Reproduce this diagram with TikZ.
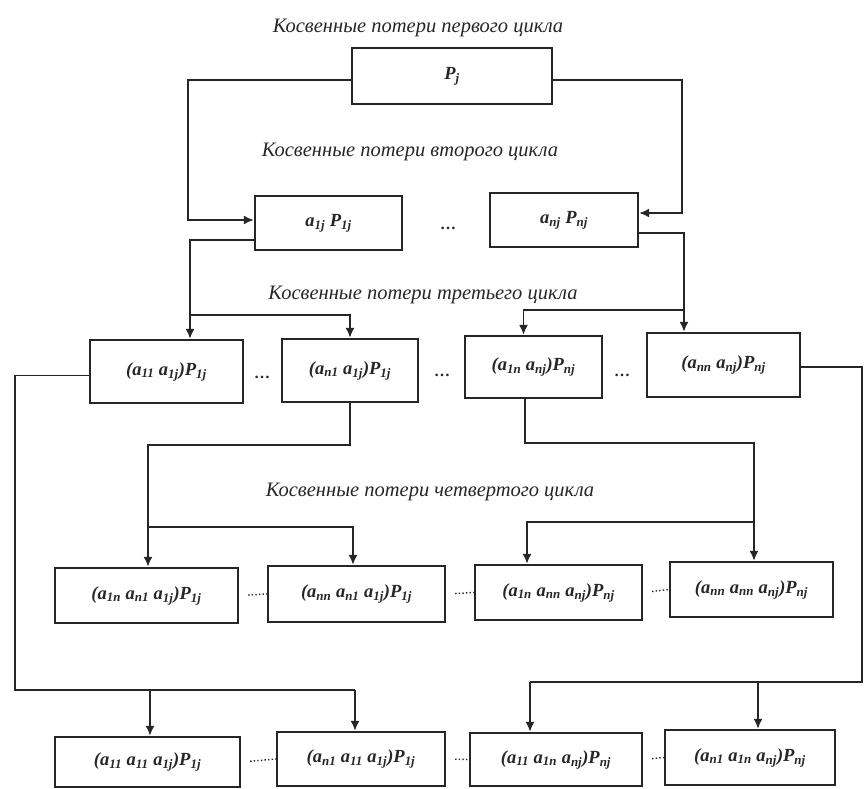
\documentclass[tikz,border=0pt]{standalone}
\usepackage{fontspec}
\setmainfont{Liberation Serif}
\usetikzlibrary{arrows.meta,calc}

% letter with a subscript, set in the current (bold italic) text font
\newcommand{\elm}[2]{#1\textsubscript{#2}}

\definecolor{ink}{HTML}{262626}

\begin{document}
\begin{tikzpicture}[x=1pt,y=-1pt,
  box/.style={draw=ink, line width=2.3pt, rectangle, inner sep=0pt, text=ink,
    font=\fontsize{18.5}{22}\selectfont\bfseries\itshape},
  link/.style={draw=ink, line width=1.8pt},
  arr/.style={link, -{Latex[length=10pt,width=9pt]}},
  caption/.style={text=ink, font=\fontsize{20.5}{24}\selectfont\itshape},
  gap/.style={text=ink, font=\fontsize{16}{18}\selectfont\bfseries},
  dotline/.style={draw=ink, line width=1.4pt, dash pattern=on 1.4pt off 2.2pt, shorten <=9pt},
]
\useasboundingbox (0,0) rectangle (865,789);

% cycle captions
\node[caption] (c1) at (418,28)  {Косвенные потери первого цикла};
\node[caption] (c2) at (410,152) {Косвенные потери второго цикла};
\node[caption] (c3) at (423,295) {Косвенные потери третьего цикла};
\node[caption] (c4) at (430,492) {Косвенные потери четвертого цикла};

% first cycle
\node[box, minimum width=200, minimum height=56] (Pj) at (452,76) {\elm{P}{j}};

% second cycle
\node[box, minimum width=147, minimum height=54] (r2a) at (328.5,223) {\elm{a}{1j} \elm{P}{1j}};
\node[box, minimum width=148, minimum height=54] (r2b) at (564,220)   {\elm{a}{nj} \elm{P}{nj}};
\node[gap] (d2) at (448,228) {\dots};

% third cycle
\node[box, minimum width=153, minimum height=63] (r3a) at (166.5,371.5) {(\elm{a}{11} \elm{a}{1j})\elm{P}{1j}};
\node[box, minimum width=136, minimum height=63] (r3b) at (350,370.5)   {(\elm{a}{n1} \elm{a}{1j})\elm{P}{1j}};
\node[box, minimum width=137, minimum height=62] (r3c) at (533.5,367)   {(\elm{a}{1n} \elm{a}{nj})\elm{P}{nj}};
\node[box, minimum width=153, minimum height=64] (r3d) at (723.5,365)   {(\elm{a}{nn} \elm{a}{nj})\elm{P}{nj}};
\node[gap] (d3a) at (262,377) {\dots};
\node[gap] (d3b) at (442,375) {\dots};
\node[gap] (d3c) at (622,375) {\dots};

% fourth cycle
\node[box, minimum width=183, minimum height=55] (r4a) at (146.5,595.5) {(\elm{a}{1n} \elm{a}{n1} \elm{a}{1j})\elm{P}{1j}};
\node[box, minimum width=177, minimum height=56] (r4b) at (356.5,594)   {(\elm{a}{nn} \elm{a}{n1} \elm{a}{1j})\elm{P}{1j}};
\node[box, minimum width=167, minimum height=55] (r4c) at (558.5,592.5) {(\elm{a}{1n} \elm{a}{nn} \elm{a}{nj})\elm{P}{nj}};
\node[box, minimum width=163, minimum height=55] (r4d) at (751.5,589.5) {(\elm{a}{nn} \elm{a}{nn} \elm{a}{nj})\elm{P}{nj}};

% fifth row
\node[box, minimum width=185, minimum height=50] (r5a) at (147.5,762)  {(\elm{a}{11} \elm{a}{11} \elm{a}{1j})\elm{P}{1j}};
\node[box, minimum width=168, minimum height=54] (r5b) at (361,759)    {(\elm{a}{n1} \elm{a}{11} \elm{a}{1j})\elm{P}{1j}};
\node[box, minimum width=172, minimum height=53] (r5c) at (556,759.5)  {(\elm{a}{11} \elm{a}{1n} \elm{a}{nj})\elm{P}{nj}};
\node[box, minimum width=170, minimum height=55] (r5d) at (750,757.5)  {(\elm{a}{n1} \elm{a}{1n} \elm{a}{nj})\elm{P}{nj}};

% dotted gaps between the lower boxes
\draw[dotline] (r4a.east) -- (r4b.west);
\draw[dotline] (r4b.east) -- (r4c.west);
\draw[dotline] (r4c.east) -- (r4d.west);
\draw[dotline] (r5a.east) -- (r5b.west);
\draw[dotline] (r5b.east) -- (r5c.west);
\draw[dotline] (r5c.east) -- (r5d.west);

% junction points
\coordinate (j3l) at (190,315);
\coordinate (j3r) at (684,310);
\coordinate (j4l) at (148,527);
\coordinate (j4r) at (754,522);
\coordinate (j5l) at (150,690);
\coordinate (j5m) at (355,690);
\coordinate (j5r) at (758,682);
\coordinate (j5s) at (530,682);

% P_j -> second cycle
\draw[arr] ([yshift=-4pt]Pj.west) -| (188,220) -- ([yshift=3pt]r2a.west);
\draw[arr] ([yshift=-4pt]Pj.east) -| (682,213) -- ([yshift=7pt]r2b.east);

% second cycle -> third cycle
\draw[link] ([yshift=-17pt]r2a.west) -| (j3l);
\draw[arr] (j3l) -- (j3l |- r3a.north);
\draw[arr] (j3l) -| (r3b.north);
\draw[link] ([yshift=-13pt]r2b.east) -| (j3r);
\draw[arr] (j3r) -- (j3r |- r3d.north);
\draw[arr] (j3r) -| ([xshift=-10pt]r3c.north);

% third cycle -> fourth cycle
\draw[link] (r3b.south) -- (350,445) -| (j4l);
\draw[arr] (j4l) -- (j4l |- r4a.north);
\draw[arr] (j4l) -- (353,527) -- (353,0 |- r4b.north);
\draw[link] (525,0 |- r3c.south) -- (525,443) -| (j4r);
\draw[arr] (j4r) -- (j4r |- r4d.north);
\draw[arr] (j4r) -- (527,522) -- (527,0 |- r4c.north);

% third cycle -> fifth row
\draw[link] ([yshift=-4pt]r3a.west) -| (15,690) -- (j5m);
\draw[arr] (j5l) -- (j5l |- r5a.north);
\draw[arr] (j5m) -- (j5m |- r5b.north);
\draw[link] ([yshift=-2pt]r3d.east) -| (862,682) -- (j5s);
\draw[arr] (j5r) -- (j5r |- r5d.north);
\draw[arr] (j5s) -- (j5s |- r5c.north);
\end{tikzpicture}
\end{document}
